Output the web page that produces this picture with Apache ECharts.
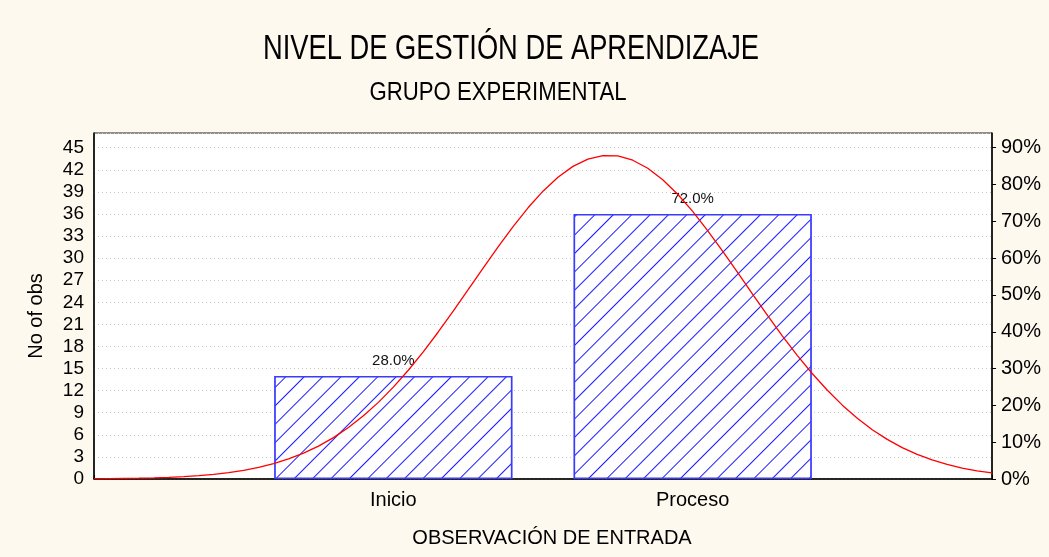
<!DOCTYPE html>
<html>
<head>
<meta charset="utf-8">
<script src="https://cdn.jsdelivr.net/npm/echarts@6/dist/echarts.min.js"></script>
<style>
  html, body { margin: 0; background: #fef9ee; }
  #main { width: 1049px; height: 557px; }
</style>
</head>
<body>
<div id="main"></div>
<script>
// data
const categories = ['Inicio', 'Proceso']
const counts = [14, 36]
const percentLabels = ['28.0%', '72.0%']

// fitted normal curve
const curveX = [0, 0.05, 0.1, 0.15, 0.2, 0.25, 0.3, 0.35, 0.4, 0.45, 0.5, 0.55, 0.6, 0.65, 0.7, 0.75,
  0.8, 0.85, 0.9, 0.95, 1, 1.05, 1.1, 1.15, 1.2, 1.25, 1.3, 1.35, 1.4, 1.45, 1.5, 1.55, 1.6, 1.65,
  1.7, 1.75, 1.8, 1.85, 1.9, 1.95, 2, 2.05, 2.1, 2.15, 2.2, 2.25, 2.3, 2.35, 2.4, 2.45, 2.5, 2.55,
  2.6, 2.65, 2.7, 2.75, 2.8, 2.85, 2.9, 2.95, 3]
const curveY = [0.03, 0.05, 0.08, 0.11, 0.16, 0.23, 0.33, 0.46, 0.64, 0.87, 1.18, 1.58, 2.09, 2.72,
  3.51, 4.47, 5.62, 6.99, 8.58, 10.41, 12.48, 14.77, 17.28, 19.97, 22.8, 25.71, 28.65, 31.53, 34.29,
  36.84, 39.1, 41.0, 42.47, 43.46, 43.94, 43.88, 43.3, 42.21, 40.65, 38.68, 36.35, 33.75, 30.96,
  28.06, 25.12, 22.22, 19.42, 16.76, 14.3, 12.05, 10.03, 8.25, 6.7, 5.38, 4.26, 3.34, 2.59, 1.98,
  1.49, 1.11, 0.82]

const font = '"Liberation Sans", Arial, sans-serif'

const myChart = echarts.init(document.getElementById('main'))

const option = {
  animation: false,
  backgroundColor: '#fef9ee',
  aria: { enabled: true, decal: { show: true } },
  textStyle: { fontFamily: font, color: '#000' },
  graphic: [
    {
      type: 'text', x: 511, y: 49, scaleX: 0.78,
      style: { text: 'NIVEL DE GESTIÓN DE APRENDIZAJE', font: '35px ' + font, fill: '#000', textAlign: 'center', textVerticalAlign: 'middle' }
    },
    {
      type: 'text', x: 498, y: 93, scaleX: 0.87,
      style: { text: 'GRUPO EXPERIMENTAL', font: '25.5px ' + font, fill: '#000', textAlign: 'center', textVerticalAlign: 'middle' }
    }
  ],
  grid: {
    left: 94, right: 57, top: 133, bottom: 78,
    show: true, backgroundColor: '#ffffff', borderColor: '#222', borderWidth: 1
  },
  xAxis: {
    type: 'value', min: 0, max: 3, interval: 1,
    name: 'OBSERVACIÓN DE ENTRADA', nameLocation: 'middle', nameGap: 49,
    nameTextStyle: { fontSize: 20, color: '#000', padding: [0, 0, 0, 18] },
    axisLine: { lineStyle: { color: '#000', width: 1.5 } },
    axisTick: { inside: true, length: 4, lineStyle: { color: '#000' } },
    axisLabel: {
      fontSize: 20, color: '#000', margin: 11,
      formatter: v => categories[v - 1] || ''
    },
    splitLine: { show: false }
  },
  yAxis: [
    {
      type: 'value', min: 0, max: 47, interval: 3,
      name: 'No of obs', nameLocation: 'middle', nameGap: 48, nameRotate: 90,
      nameTextStyle: { fontSize: 20, color: '#000', padding: [0, 20, 0, 0] },
      axisLine: { show: true, lineStyle: { color: '#000', width: 1.5 } },
      axisTick: { show: false },
      axisLabel: { fontSize: 19, color: '#000', margin: 10, showMaxLabel: false },
      splitLine: { show: true, lineStyle: { color: '#c8c8c8', type: [1, 3] } }
    },
    {
      type: 'value', min: 0, max: 94, interval: 10, position: 'right',
      axisLine: { show: true, lineStyle: { color: '#000', width: 1.5 } },
      axisTick: { show: true, length: 4, lineStyle: { color: '#000' } },
      axisLabel: { fontSize: 20, color: '#000', margin: 9, showMaxLabel: false, formatter: '{value}%' },
      splitLine: { show: false }
    }
  ],
  series: [
    {
      type: 'bar',
      data: counts.map((c, i) => [i + 1, c]),
      barWidth: 238,
      itemStyle: {
        color: '#ffffff',
        borderColor: '#3b3bff',
        borderWidth: 1.5,
        decal: {
          symbol: 'rect',
          symbolSize: 1,
          color: '#1a1aff',
          backgroundColor: '#ffffff',
          dashArrayX: [1, 0],
          dashArrayY: [1, 12],
          rotation: -Math.PI / 4
        }
      },
      label: {
        show: true, position: 'top', distance: 8,
        fontSize: 15, color: '#111',
        formatter: p => percentLabels[p.dataIndex]
      },
      z: 2
    },
    {
      type: 'line',
      data: curveX.map((x, i) => [x, curveY[i]]),
      smooth: false,
      showSymbol: false,
      lineStyle: { color: '#ff0000', width: 1.3 },
      z: 3
    }
  ]
}

myChart.setOption(option)
</script>
</body>
</html>
